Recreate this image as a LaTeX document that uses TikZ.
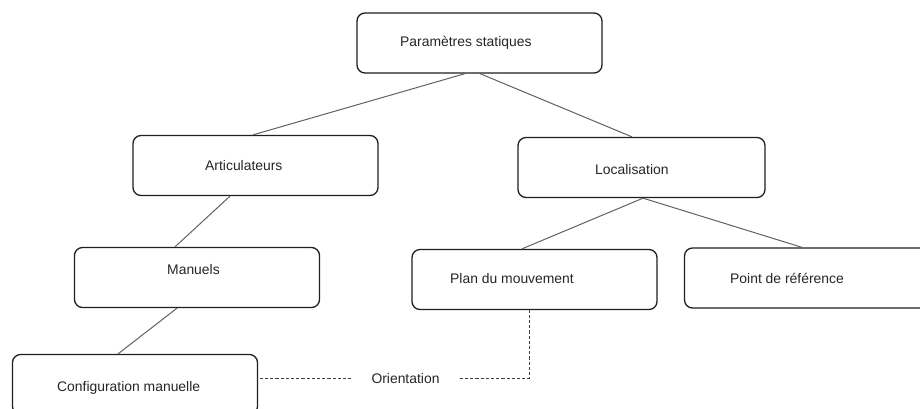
\documentclass[tikz,border=0pt]{standalone}
\usepackage{fontspec}
\setmainfont{Liberation Sans}
\begin{document}
\begin{tikzpicture}[x=1pt,y=-1pt,
  box/.style={draw=black!88, line width=1.3pt, rounded corners=8pt,
    minimum width=245pt, minimum height=60pt, inner sep=0pt, fill=white},
  lbl/.style={inner sep=0pt, anchor=mid west, font=\fontsize{13.9}{16}\selectfont, text=black!85},
  link/.style={draw=black!62, line width=1pt},
  dlink/.style={draw=black!75, line width=0.9pt, dash pattern=on 3.2pt off 2pt}]
\useasboundingbox (0,0) rectangle (920,408);
\begin{scope}
\clip (0,0) rectangle (920,408);

% tree boxes
\node[box] (param)   at (479.5,43)   {};
\node[box] (artic)   at (255.5,165.5){};
\node[box, minimum width=247pt] (local) at (641.5,167.5) {};
\node[box] (manuels) at (197,277.5)  {};
\node[box] (plan)    at (534.5,279.5){};
\node[box] (point)   at (807,278)    {};
\node[box] (config)  at (135,384.5)  {};

% box labels
\node[lbl] (tparam)   at (400,44)  {Paramètres statiques};
\node[lbl] (tartic)   at (205,168) {Articulateurs};
\node[lbl] (tlocal)   at (595,172) {Localisation};
\node[lbl] (tmanuels) at (167,272) {Manuels};
\node[lbl] (tplan)    at (450,281) {Plan du mouvement};
\node[lbl] (tpoint)   at (730,281) {Point de référence};
\node[lbl] (tconfig)  at (57,389)  {Configuration manuelle};

% hierarchy links
\draw[link] ([xshift=-14.5pt]param.south) -- ([xshift=-2.5pt]artic.north);
\draw[link] ([xshift=0.5pt]param.south)   -- ([xshift=-9.5pt]local.north);
\draw[link] ([xshift=-25.5pt]artic.south) -- ([xshift=-22pt]manuels.north);
\draw[link] ([xshift=1.5pt]local.south)   -- ([xshift=-12.5pt]plan.north);
\draw[link] ([xshift=1.5pt]local.south)   -- ([xshift=-5pt]point.north);
\draw[link] ([xshift=-20pt]manuels.south) -- ([xshift=-17pt]config.north);

% orientation relation (dashed)
\node[lbl, anchor=mid, inner xsep=20pt] (orient) at (405.5,381) {Orientation};
\draw[dlink] (orient.west) -- (orient.west -| config.east);
\draw[dlink] (orient.east) -| ([xshift=-5.5pt]plan.south);
\end{scope}
\end{tikzpicture}
\end{document}
